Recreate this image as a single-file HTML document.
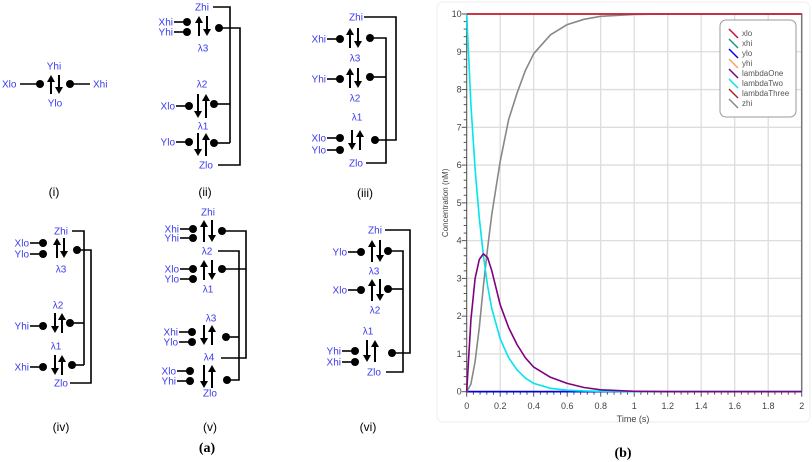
<!DOCTYPE html>
<html><head><meta charset="utf-8"><style>
html,body{margin:0;padding:0;background:#fff;}
svg{display:block;font-family:"Liberation Sans",sans-serif;}
</style></head><body>
<svg id="s" width="812" height="462" viewBox="0 0 812 462">
<g id="diag"></g>
<g id="chart"></g>
</svg>
<script>
const categories=[0,0.025,0.05,0.075,0.1,0.125,0.15,0.2,0.25,0.3,0.35,0.4,0.5,0.6,0.7,0.8,1,1.2,1.6,2];
const zhiValues=[0,0.2,0.8,1.7,2.8,3.8,4.7,6.1,7.2,7.9,8.5,8.95,9.45,9.72,9.86,9.94,9.99,10,10,10];
const lambdaOneValues=[0,1.9,3.0,3.5,3.65,3.55,3.2,2.3,1.7,1.25,0.9,0.65,0.38,0.22,0.11,0.05,0.01,0,0,0];
const lambdaTwoValues=[10,7.6,5.9,4.6,3.6,2.8,2.2,1.4,0.9,0.58,0.36,0.22,0.09,0.04,0.02,0.01,0,0,0,0];
const xloValues=[10,10,10,10,10,10,10,10,10,10,10,10,10,10,10,10,10,10,10,10];
const xhiValues=[0,0,0,0,0,0,0,0,0,0,0,0,0,0,0,0,0,0,0,0];
const yloValues=[0,0,0,0,0,0,0,0,0,0,0,0,0,0,0,0,0,0,0,0];
const yhiValues=[10,10,10,10,10,10,10,10,10,10,10,10,10,10,10,10,10,10,10,10];
const lambdaThreeValues=[0,0,0,0,0,0,0,0,0,0,0,0,0,0,0,0,0,0,0,0];
const xTickLabels=["0","0.2","0.4","0.6","0.8","1","1.2","1.4","1.6","1.8","2"];
const yTickLabels=["0","1","2","3","4","5","6","7","8","9","10"];
const seriesNames=["xlo","xhi","ylo","yhi","lambdaOne","lambdaTwo","lambdaThree","zhi"];

const NS="http://www.w3.org/2000/svg";
function mk(p,tag,at,txt){const e=document.createElementNS(NS,tag);for(const k in at)e.setAttribute(k,at[k]);if(txt!==undefined)e.textContent=txt;p.appendChild(e);return e;}
const D=document.getElementById('diag');
function lbl(x,y,s,anchor){const e=mk(D,'text',{x:x,y:y+3.5,'font-size':10,fill:'#3b3bf0','text-anchor':anchor||'middle'},s);

return e;}
function dot(x,y){const e=mk(D,'circle',{cx:x,cy:y,r:4,fill:'#000'});

}
function ln(pts){const e=mk(D,'polyline',{points:pts.map(p=>p.join(',')).join(' '),fill:'none',stroke:'#000','stroke-width':1.6});

}
function arr(x,y1,y2,up){const e=mk(D,'g',{});


const tip=up?y1:y2,base=up?y1+7:y2-7;
mk(e,'line',{x1:x,y1:up?base:y1,x2:x,y2:up?y2:base,stroke:'#000','stroke-width':2});
mk(e,'polygon',{points:`${x-4},${base} ${x+4},${base} ${x},${tip}`,fill:'#000'});}
function inp(name,x,y){lbl(x-14,y,name,'end');ln([[x-13,y],[x,y]]);dot(x,y);}
function cap(x,y,s){const e=mk(D,'text',{x:x,y:y+4,'font-size':12,fill:'#000','text-anchor':'middle'},s);

}
// (i)
lbl(54,66,'Yhi');lbl(55,103,'Ylo');arr(51,75,94,true);arr(59,75,94,false);
lbl(2,84,'Xlo','start');ln([[20,84],[40,84]]);dot(40,84);dot(70,84);ln([[70,84],[90,84]]);lbl(93,84,'Xhi','start');cap(54,192,'(i)');
// (ii)
lbl(202,7,'Zhi');inp('Xhi',187,22);inp('Yhi',187,32);arr(199,16,36,true);arr(207,16,36,false);dot(219,28);lbl(203,48,'λ3');
ln([[213,7],[230,7],[230,143]]);ln([[219,28],[240,28],[240,165],[218,165]]);lbl(206,165,'Zlo');
lbl(202,84,'λ2');inp('Xlo',189,106);arr(198,94,118,false);arr(206,94,118,true);dot(214,104);ln([[214,104],[230,104]]);
lbl(203,126,'λ1');inp('Ylo',189,142);arr(198,133,156,false);arr(206,133,156,true);dot(214,143);ln([[214,143],[230,143]]);cap(205,192,'(ii)');
// (iii)
lbl(356,17,'Zhi');inp('Xhi',340,39);arr(350,28,48,true);arr(358,28,48,false);dot(370,38);lbl(355,58,'λ3');
ln([[364,17],[396,17],[396,140],[375,140]]);ln([[370,38],[386,38],[386,163],[366,163]]);lbl(356,163,'Zlo');
inp('Yhi',340,79);arr(350,68,88,true);arr(358,68,88,false);dot(370,77);ln([[370,77],[386,77]]);lbl(355,98,'λ2');
lbl(357,117,'λ1');inp('Xlo',340,138);inp('Ylo',340,150);arr(352,130,150,false);arr(360,130,150,true);dot(375,140);cap(365,193,'(iii)');
// (iv)
lbl(61,231,'Zhi');inp('Xlo',43,243);inp('Ylo',43,254);arr(57,238,258,true);arr(64,238,258,false);dot(77,250);lbl(61,269,'λ3');
ln([[72,231],[84,231],[84,365]]);ln([[77,250],[91,250],[91,383],[70,383]]);lbl(61,383,'Zlo');
lbl(58,305,'λ2');inp('Yhi',43,326);arr(55,313,333,false);arr(62,313,333,true);dot(70,323);ln([[70,323],[84,323]]);
lbl(56,346,'λ1');inp('Xhi',43,367);arr(55,355,375,false);arr(62,355,375,true);dot(72,365);ln([[72,365],[84,365]]);cap(61,427,'(iv)');
// (v)
lbl(208,212,'Zhi');inp('Xhi',193,229);inp('Yhi',193,238);arr(204,220,242,true);arr(212,220,242,false);dot(222,231);
ln([[222,231],[246,231],[246,358],[221,358]]);lbl(207,251,'λ2');ln([[218,251],[239,251],[239,380],[227,380]]);
inp('Xlo',193,269);inp('Ylo',193,279);arr(204,260,280,true);arr(212,260,280,false);dot(222,269);ln([[222,269],[246,269]]);lbl(208,289,'λ1');
lbl(211,318,'λ3');inp('Xhi',192,332);inp('Ylo',192,342);arr(204,325,345,false);arr(212,325,345,true);dot(226,337);ln([[226,337],[239,337]]);
lbl(209,357,'λ4');inp('Xlo',190,371);inp('Yhi',190,381);arr(204,365,388,false);arr(212,365,388,true);dot(227,380);lbl(210,393,'Zlo');cap(210,427,'(v)');
// (vi)
lbl(375,230,'Zhi');ln([[385,230],[410,230],[410,353],[392,353]]);inp('Ylo',361,252);arr(372,240,262,true);arr(380,240,262,false);dot(388,251);
ln([[388,251],[403,251],[403,372],[386,372]]);lbl(374,271,'λ3');inp('Xlo',361,290);arr(372,279,301,true);arr(380,279,301,false);dot(388,289);ln([[388,289],[403,289]]);
lbl(375,310,'λ2');lbl(368,331,'λ1');inp('Yhi',355,351);inp('Xhi',355,362);arr(367,340,362,false);arr(375,340,362,true);dot(392,353);lbl(374,372,'Zlo');cap(368,427,'(vi)');
{const e=mk(D,'text',{x:207,y:452,'font-size':14,'font-weight':'bold','font-family':'Liberation Serif, serif','text-anchor':'middle'},'(a)');

}

// chart
const C=document.getElementById('chart');
const X0=466.7,X1=801.7,Y0=391.7,Y1=14;
const xs=v=>X0+(v/2)*(X1-X0), ys=v=>Y0-(v/10)*(Y0-Y1);
{const e=mk(C,'rect',{x:437,y:2,width:373,height:420,rx:6,fill:'none',stroke:'#eee'});

}
xTickLabels.forEach((t,i)=>{const v=parseFloat(t),x=xs(v);
const g=mk(C,'line',{x1:x,y1:Y1,x2:x,y2:Y0,stroke:'#ddd','stroke-width':1.3});


const tl=mk(C,'text',{x:x,y:409,'font-size':9,fill:'#444','text-anchor':'middle'},t);

});
yTickLabels.forEach(t=>{const v=parseFloat(t),y=ys(v);
const g=mk(C,'line',{x1:X0,y1:y,x2:X1,y2:y,stroke:'#ddd','stroke-width':1.3});


const tl=mk(C,'text',{x:X0-5,y:y+3,'font-size':9,fill:'#444','text-anchor':'end'},t);

});
for(let i=0;i<=50;i++){const x=xs(i*0.04);const t=mk(C,'line',{x1:x,y1:Y0,x2:x,y2:Y0+(i%5?3:5),stroke:'#555'});

}
for(let i=0;i<=50;i++){const y=ys(i*0.2);const t=mk(C,'line',{x1:X0,y1:y,x2:X0-(i%5?3:5),y2:y,stroke:'#555'});

}
{const a=mk(C,'polyline',{points:`${X0},${Y1} ${X1},${Y1} ${X1},${Y0}`,fill:'none',stroke:'#777','stroke-width':1.5});


const b=mk(C,'polyline',{points:`${X0},${Y1} ${X0},${Y0} ${X1},${Y0}`,fill:'none',stroke:'#555','stroke-width':1});

}
const colors={xlo:'#c8102e',xhi:'#1a9a7a',ylo:'#0000ee',yhi:'#f4a460',lambdaOne:'#800080',lambdaTwo:'#00e5ee',lambdaThree:'#a52a2a',zhi:'#888888'};
const vals={xlo:xloValues,xhi:xhiValues,ylo:yloValues,yhi:yhiValues,lambdaOne:lambdaOneValues,lambdaTwo:lambdaTwoValues,lambdaThree:lambdaThreeValues,zhi:zhiValues};
["yhi","xhi","lambdaThree","ylo","zhi","lambdaTwo","lambdaOne","xlo"].forEach(n=>{
const p=mk(C,'polyline',{points:categories.map((c,i)=>xs(c).toFixed(1)+','+ys(vals[n][i]).toFixed(1)).join(' '),fill:'none',stroke:colors[n],'stroke-width':1.6,'stroke-linejoin':'round'});

});
{const lg=mk(C,'g',{});


mk(lg,'rect',{x:720,y:20,width:76,height:97,rx:6,fill:'#fff',stroke:'#999'});
seriesNames.forEach((n,i)=>{const y=33+i*10;
const e=mk(lg,'g',{});


mk(e,'line',{x1:729,y1:y-4,x2:738,y2:y+5,stroke:colors[n],'stroke-width':1.5});
mk(e,'text',{x:742,y:y+3,'font-size':8,fill:'#555'},n);});}
{const t=mk(C,'text',{x:0,y:0,'font-size':8,fill:'#444','text-anchor':'middle',transform:`translate(448,${(Y0+Y1)/2}) rotate(-90)`},'Concentration (nM)');


const u=mk(C,'text',{x:633,y:422,'font-size':9,fill:'#444','text-anchor':'middle'},'Time (s)');


const b=mk(C,'text',{x:623,y:457,'font-size':14,'font-weight':'bold','font-family':'Liberation Serif, serif','text-anchor':'middle'},'(b)');

}
</script>
</body></html>
